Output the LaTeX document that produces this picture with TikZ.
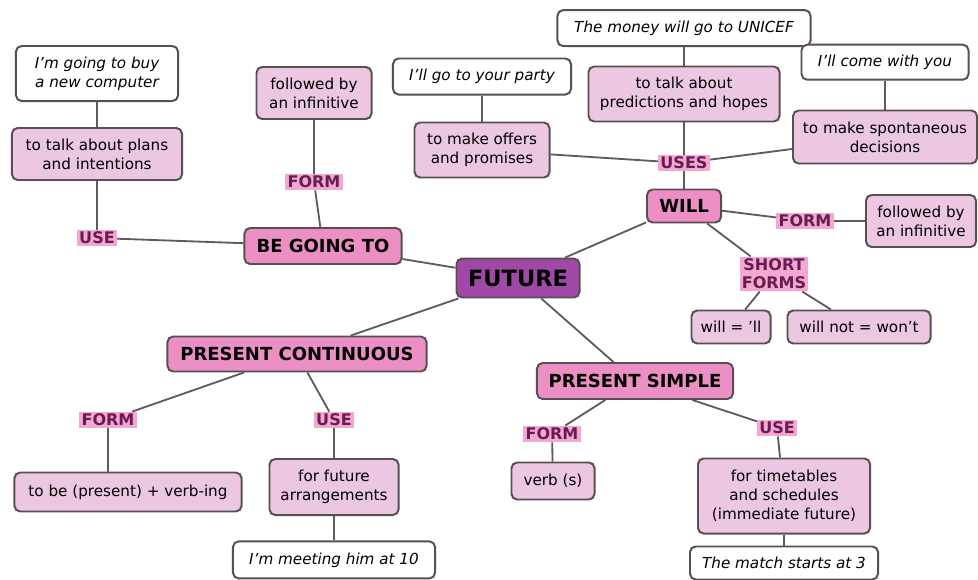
\documentclass[tikz,border=0pt]{standalone}
\usepackage{fontspec}
\setmainfont{DejaVu Sans}[ItalicFont=DejaVu Sans Oblique, BoldFont=DejaVu Sans Bold, BoldItalicFont=DejaVu Sans Bold Oblique]
\usetikzlibrary{shapes,positioning,backgrounds}
\definecolor{conceptpink}{RGB}{236,143,196}
\definecolor{infopink}{RGB}{235,199,225}
\definecolor{labelpink}{RGB}{243,168,210}
\definecolor{labeltext}{RGB}{105,28,82}
\definecolor{rootpurple}{RGB}{160,72,166}
\definecolor{boxline}{RGB}{88,78,84}
\definecolor{edgegray}{RGB}{95,90,93}
\tikzstyle{rootbox} = [rectangle, rounded corners=4pt, draw=boxline, line width=1.4pt, fill=rootpurple, text=black, font=\fontsize{16}{18}\selectfont\bfseries, minimum width=3.075cm, minimum height=0.975cm]
\tikzstyle{conceptbox} = [rectangle, rounded corners=4pt, draw=boxline, line width=1.4pt, fill=conceptpink, text=black, font=\fontsize{12.8}{15}\selectfont\bfseries, minimum height=0.9cm]
\tikzstyle{infobox} = [rectangle, rounded corners=4pt, draw=boxline, line width=1.4pt, fill=infopink, align=center, font=\fontsize{10.8}{13.5}\selectfont]
\tikzstyle{examplebox} = [rectangle, rounded corners=4pt, draw=boxline, line width=1.4pt, fill=white, align=center, font=\fontsize{10.8}{13.5}\selectfont\itshape]
\tikzstyle{linkword} = [rectangle, fill=labelpink, text=labeltext, inner sep=1.5pt, align=center, font=\fontsize{11.4}{13}\selectfont\bfseries]
\tikzstyle{link} = [line width=1.3pt, color=edgegray]

\begin{document}
\begin{tikzpicture}[x=0.025cm, y=-0.025cm]
\useasboundingbox[fill=white] (0,0) rectangle (978,579);

% Centre
\node[rootbox] (future) at (518,278) {FUTURE};

% BE GOING TO branch
\node[conceptbox, minimum width=3.925cm] (going) at (323,246) {BE GOING TO};
\node[linkword] (goingform) at (314,182) {FORM};
\node[infobox, minimum width=2.875cm, minimum height=1.3cm] (goinginf) at (314,93) {followed by\\an infinitive};
\node[linkword] (goinguse) at (97,238) {USE};
\node[infobox, minimum width=4.25cm, minimum height=1.3cm] (plans) at (97,154) {to talk about plans\\and intentions};
\node[examplebox, minimum width=4.05cm, minimum height=1.375cm, above=0.625cm of plans] (computer) {I'm going to buy\\a new computer};

% WILL branch
\node[conceptbox, minimum width=1.85cm, minimum height=0.825cm] (will) at (684,206) {WILL};
\node[linkword] (willuses) at (684,163) {USES};
\node[infobox, minimum width=4.775cm, minimum height=1.375cm] (predict) at (684,94) {to talk about\\predictions and hopes};
\node[examplebox, minimum width=6.325cm, minimum height=0.9cm, above=0.46cm of predict] (unicef) {The money will go to UNICEF};
\node[infobox, minimum width=3.375cm, minimum height=1.375cm] (offers) at (482,150) {to make offers\\and promises};
\node[examplebox, minimum width=4.45cm, minimum height=0.9cm, above=0.65cm of offers] (party) {I'll go to your party};
\node[infobox, minimum width=4.6cm, minimum height=1.325cm] (spont) at (885,137) {to make spontaneous\\decisions};
\node[examplebox, minimum width=4.175cm, minimum height=0.875cm, above=0.72cm of spont] (come) {I'll come with you};
\node[linkword] (willform) at (805,221) {FORM};
\node[infobox, minimum width=2.75cm, minimum height=1.3cm] (willinf) at (921,221) {followed by\\an infinitive};
\node[linkword] (short) at (774,274) {SHORT\\FORMS};
\node[infobox, minimum width=1.975cm, minimum height=0.825cm] (contract) at (731,327) {will = 'll};
\node[infobox, minimum width=3.575cm, minimum height=0.825cm] (wont) at (859,327) {will not = won't};

% PRESENT CONTINUOUS branch
\node[conceptbox, minimum width=6.475cm, minimum height=0.875cm] (prescont) at (297,354) {PRESENT CONTINUOUS};
\node[linkword] (contform) at (108,420) {FORM};
\node[infobox, minimum width=5.675cm, minimum height=0.975cm] (tobe) at (128,492) {to be (present) + verb-ing};
\node[linkword] (contuse) at (334,420) {USE};
\node[infobox, minimum width=3.225cm, minimum height=1.4cm] (arrange) at (334,487) {for future\\arrangements};
\node[examplebox, minimum width=5.05cm, minimum height=0.925cm, below=0.61cm of arrange] (meeting) {I'm meeting him at 10};

% PRESENT SIMPLE branch
\node[conceptbox, minimum width=4.9cm] (pressimp) at (635,381) {PRESENT SIMPLE};
\node[linkword] (simpform) at (552,434) {FORM};
\node[infobox, minimum width=2.075cm, minimum height=0.925cm] (verb) at (553,481) {verb (s)};
\node[linkword] (simpuse) at (777,428) {USE};
\node[infobox, minimum width=4.3cm, minimum height=1.875cm] (timetable) at (784,496) {for timetables\\and schedules\\(immediate future)};
\node[examplebox, minimum width=4.7cm, minimum height=0.825cm, below=0.275cm of timetable] (match) {The match starts at 3};

% Links - BE GOING TO
\draw[link] (future) -- (going);
\draw[link] (going) -- (goingform);
\draw[link] (goingform) -- (goinginf);
\draw[link] (going) -- (goinguse);
\draw[link] (goinguse) -- (plans);
\draw[link] (plans) -- (computer);

% Links - WILL
\draw[link] (future) -- (will);
\draw[link] (will) -- (willuses);
\draw[link] (willuses) -- (predict);
\draw[link] (predict) -- (unicef);
\draw[link] (willuses) -- (offers);
\draw[link] (offers) -- (party);
\draw[link] (willuses) -- (spont);
\draw[link] (spont) -- (come);
\draw[link] (will) -- (willform);
\draw[link] (willform) -- (willinf);
\draw[link] (will) -- (short);
\draw[link] (short) -- (contract);
\draw[link] (short) -- (wont);

% Links - PRESENT CONTINUOUS
\draw[link] (future) -- (prescont);
\draw[link] (prescont) -- (contform);
\draw[link] (contform) -- (contform |- tobe.north);
\draw[link] (prescont) -- (contuse);
\draw[link] (contuse) -- (arrange);
\draw[link] (arrange) -- (meeting);

% Links - PRESENT SIMPLE
\draw[link] (future) -- (pressimp);
\draw[link] (pressimp) -- (simpform);
\draw[link] (simpform) -- (verb);
\draw[link] (pressimp) -- (simpuse);
\draw[link] (simpuse) -- (timetable);
\draw[link] (timetable) -- (match);

\end{tikzpicture}
\end{document}
